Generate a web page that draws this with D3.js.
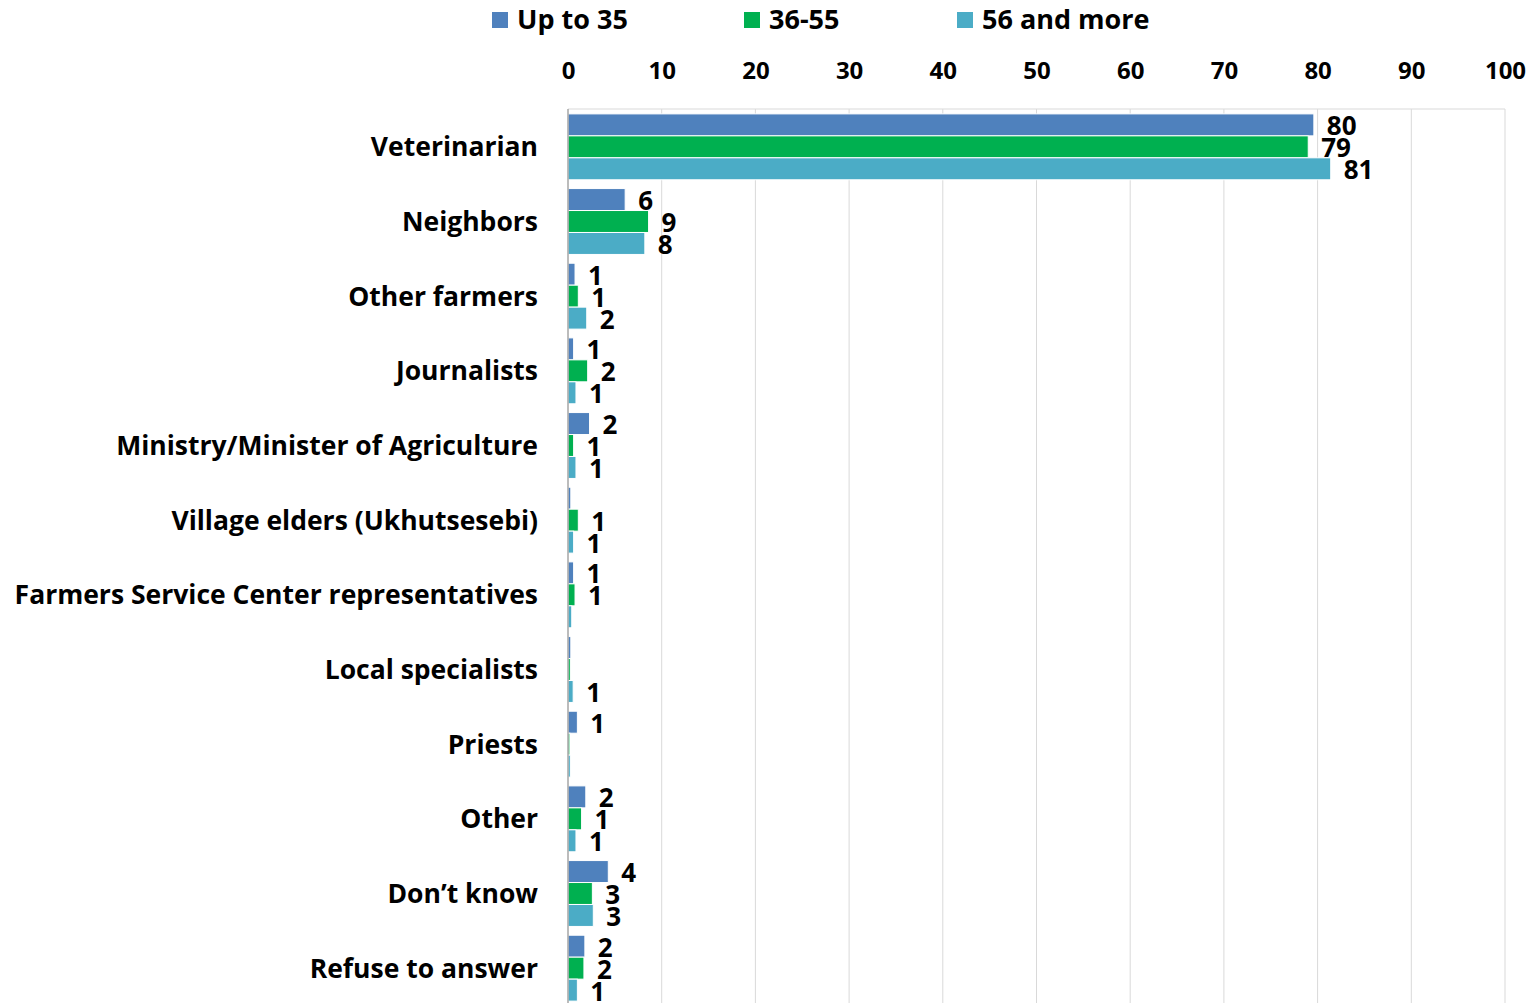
<!DOCTYPE html>
<html><head><meta charset="utf-8">
<script src="https://cdn.jsdelivr.net/npm/d3@7"></script>
<style>body{margin:0;background:#fff;} text{font-family:"Open Sans",sans-serif;font-weight:bold;fill:#000;}</style>
</head><body>
<svg id="chart" width="1531" height="1003"></svg>
<script>
const categories = ["Veterinarian","Neighbors","Other farmers","Journalists","Ministry/Minister of Agriculture","Village elders (Ukhutsesebi)","Farmers Service Center representatives","Local specialists","Priests","Other","Don\u2019t know","Refuse to answer"];
const seriesNames = ["Up to 35","36-55","56 and more"];
const upTo35 = [79.6,6.1,0.75,0.6,2.3,0.3,0.6,0.3,1.0,1.9,4.3,1.8];
const mid3655 = [79.0,8.6,1.1,2.1,0.6,1.1,0.75,0.25,0.2,1.45,2.6,1.7];
const over56 = [81.4,8.2,2.0,0.85,0.85,0.6,0.4,0.55,0.25,0.85,2.7,1.0];
const tickValues = [0,10,20,30,40,50,60,70,80,90,100];
const colors = ["#4f81bd","#00b050","#4bacc6"];

const series = [upTo35, mid3655, over56];
const svg = d3.select("#chart");
const x = d3.scaleLinear().domain([0,100]).range([568,1505]);
const y = d3.scaleBand().domain(categories).range([109.5,1005.5]).padding(0);
const ySub = d3.scaleBand().domain(seriesNames).range([0,y.bandwidth()]).paddingInner(0).paddingOuter(0.2);

// grid
svg.append("g").selectAll("line").data(tickValues.slice(1)).join("line")
  .attr("x1",d=>x(d)).attr("x2",d=>x(d)).attr("y1",109).attr("y2",1003)
  .attr("stroke","#d9d9d9").attr("stroke-width",1);
svg.append("line").attr("x1",x(0)).attr("x2",x(100)).attr("y1",109).attr("y2",109).attr("stroke","#d9d9d9");

// top axis labels
const axis = d3.axisTop(x).tickValues(tickValues).tickSize(0).tickPadding(0);
const ga = svg.append("g").attr("transform","translate(0,79)").call(axis);
ga.select(".domain").remove();
ga.selectAll("text").attr("font-size",24).style("font-family","'Open Sans',sans-serif").style("font-weight","bold").attr("fill","#000");

// bars
const gbars = svg.append("g");
series.forEach((vals,si)=>{
  gbars.append("g").selectAll("rect").data(categories).join("rect")
    .attr("x",x(0)).attr("y",(c)=>y(c)+ySub(seriesNames[si]))
    .attr("width",(c,i)=>x(vals[i])-x(0)).attr("height",ySub.bandwidth())
    .attr("fill",colors[si]).attr("stroke","#fff").attr("stroke-width",1);
  gbars.append("g").selectAll("text").data(categories.filter((c,i)=>vals[i]>=0.5)).join("text")
    .attr("x",c=>x(vals[categories.indexOf(c)])+13)
    .attr("y",c=>y(c)+ySub(seriesNames[si])+ySub.bandwidth()/2+1.5)
    .attr("dy","0.35em").attr("font-size",26)
    .text(c=>Math.round(vals[categories.indexOf(c)]));
});

// left axis line
svg.append("line").attr("x1",x(0)).attr("x2",x(0)).attr("y1",109).attr("y2",1003).attr("stroke","#a6a6a6").attr("stroke-width",1.5);

// category labels
const ya = d3.axisLeft(y).tickSize(0).tickPadding(0);
const gy = svg.append("g").attr("transform","translate(538,1)").call(ya);
gy.select(".domain").remove();
gy.selectAll("text").attr("font-size",26.5).style("font-family","'Open Sans',sans-serif").style("font-weight","bold").attr("fill","#000");

// legend
const legendX = [492,744,957];
const lg = svg.append("g");
seriesNames.forEach((n,i)=>{
  lg.append("rect").attr("x",legendX[i]).attr("y",12).attr("width",16).attr("height",16).attr("fill",colors[i]);
  lg.append("text").attr("x",legendX[i]+25).attr("y",20).attr("dy","0.35em").attr("font-size",27).text(n);
});
</script>
</body></html>
